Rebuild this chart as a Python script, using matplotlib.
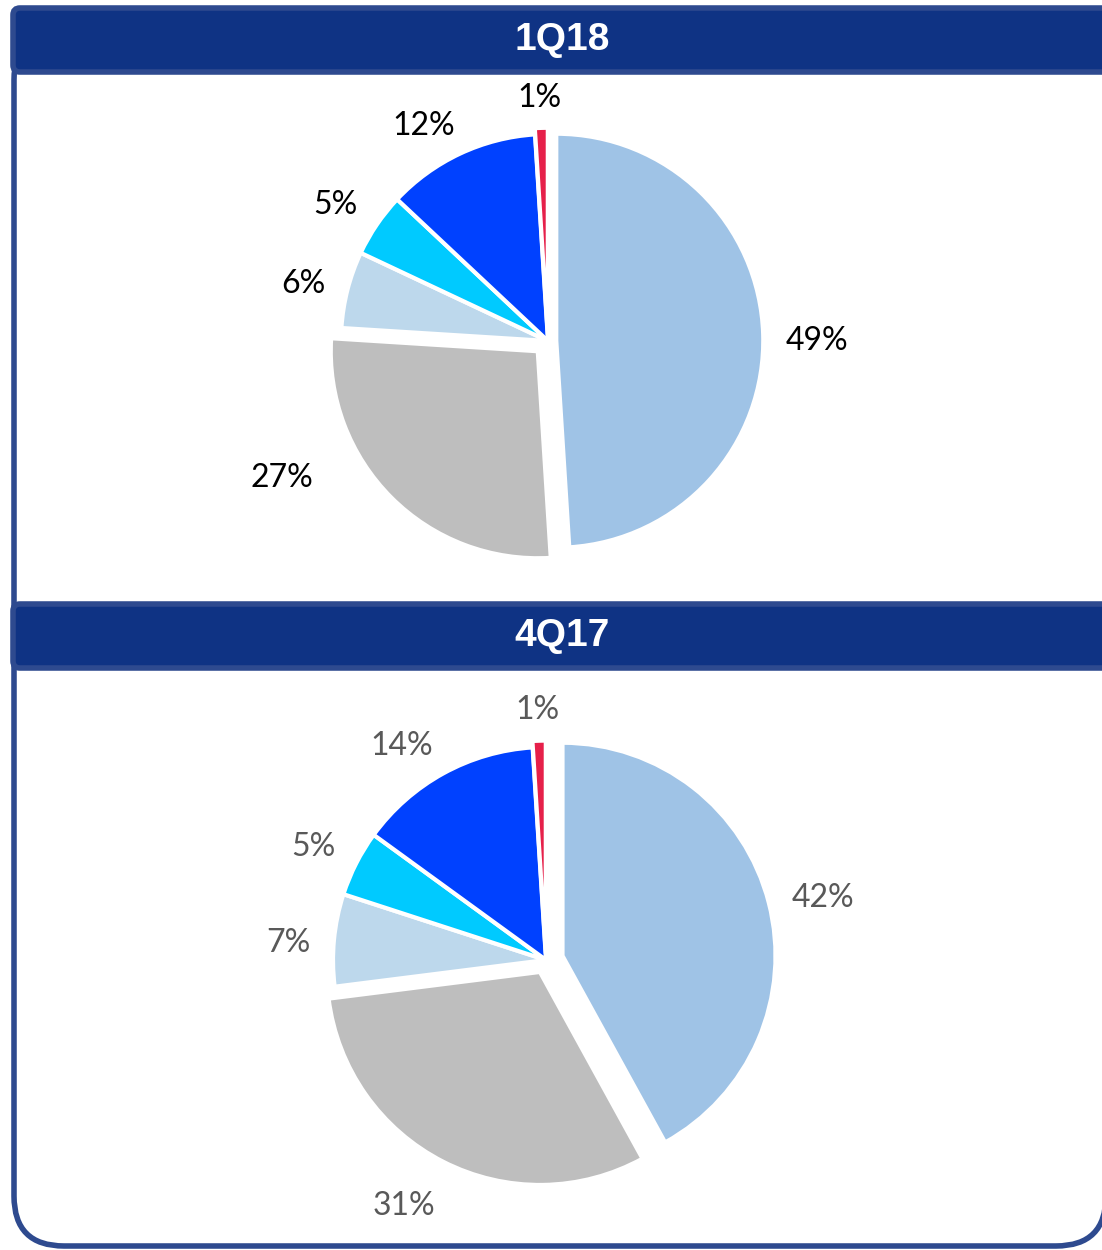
import math

import matplotlib
matplotlib.use('Agg')
import matplotlib.pyplot as plt
from matplotlib.patches import FancyBboxPatch

# slice order: clockwise from 12 o'clock
periods = ['1Q18', '4Q17']
shares_1q18 = [49, 27, 6, 5, 12, 1]
shares_4q17 = [42, 31, 7, 5, 14, 1]
slice_colors = ['#9FC3E6', '#BEBEBE', '#BDD8EC', '#00CAFF', '#0041FF', '#E6204A']

W, H = 1102, 1250
NAVY = '#0F3384'
NAVY_EDGE = '#2E4A8F'

fig = plt.figure(figsize=(W / 100, H / 100), dpi=100)
renderer = fig.canvas.get_renderer()

# background axes in pixel coordinates for the frame and the header bars
bg = fig.add_axes([0, 0, 1, 1])
bg.set_xlim(0, W)
bg.set_ylim(H, 0)
bg.axis('off')

bg.add_patch(FancyBboxPatch((14, 30), 1092, 1216, boxstyle='round,pad=0,rounding_size=50',
                            facecolor='white', edgecolor=NAVY_EDGE, linewidth=4))


def header(y0, text):
    bg.add_patch(FancyBboxPatch((13, y0), 1110, 64, boxstyle='round,pad=0,rounding_size=7',
                                facecolor=NAVY, edgecolor=NAVY_EDGE, linewidth=4))
    bg.text(562, y0 + 32, text, color='white', fontsize=28, fontweight='bold',
            family=['Liberation Sans', 'DejaVu Sans'], ha='center', va='center')


header(8, periods[0])
header(604, periods[1])


def draw_pie(cx, cy, r, shares, explode, text_color, label_move=None):
    half = 300
    ax = fig.add_axes([(cx - half) / W, 1 - (cy + half) / H, 2 * half / W, 2 * half / H])
    wedges, texts = ax.pie(
        shares, colors=slice_colors, explode=explode, startangle=90, counterclock=False,
        radius=1, wedgeprops=dict(edgecolor='white', linewidth=3))
    # pie() resets the limits, so set them afterwards
    ax.set_xlim(-half / r, half / r)
    ax.set_ylim(-half / r, half / r)
    ax.set_aspect('equal')
    ax.axis('off')

    # "outside end" labels: the text box sits just outside the arc
    gap = 0.11
    drop = 8 / r
    for i, (w, v) in enumerate(zip(wedges, shares)):
        t = ax.text(0, 0, '{}%'.format(v), color=text_color, fontsize=23,
                    family=['Lato', 'DejaVu Sans'], ha='center', va='center')
        if label_move and i in label_move:
            ang, dist = label_move[i]
            a = math.radians(ang)
            t.set_position((dist * math.cos(a), dist * math.sin(a) - drop))
            continue
        a = math.radians((w.theta1 + w.theta2) / 2)
        ext = t.get_window_extent(renderer)
        hw, hh = ext.width / 2 / r, ext.height / 2 / r
        d = 1 + explode[i] + gap
        kx = max(-1.0, min(1.0, 2 * math.cos(a)))
        ky = max(-1.0, min(1.0, 2 * math.sin(a)))
        x = d * math.cos(a) + hw * kx
        y = d * math.sin(a) + hh * ky - drop
        t.set_position((x, y))
    return ax


draw_pie(548, 341, 207, shares_1q18, [0.04, 0.07, 0, 0, 0, 0.03], 'black',
         label_move={1: (-154.1, 1.43)})
draw_pie(546, 960, 213, shares_4q17, [0.08, 0.063, 0, 0, 0, 0.03], '#595959')

fig.savefig('out.png', dpi=100)
